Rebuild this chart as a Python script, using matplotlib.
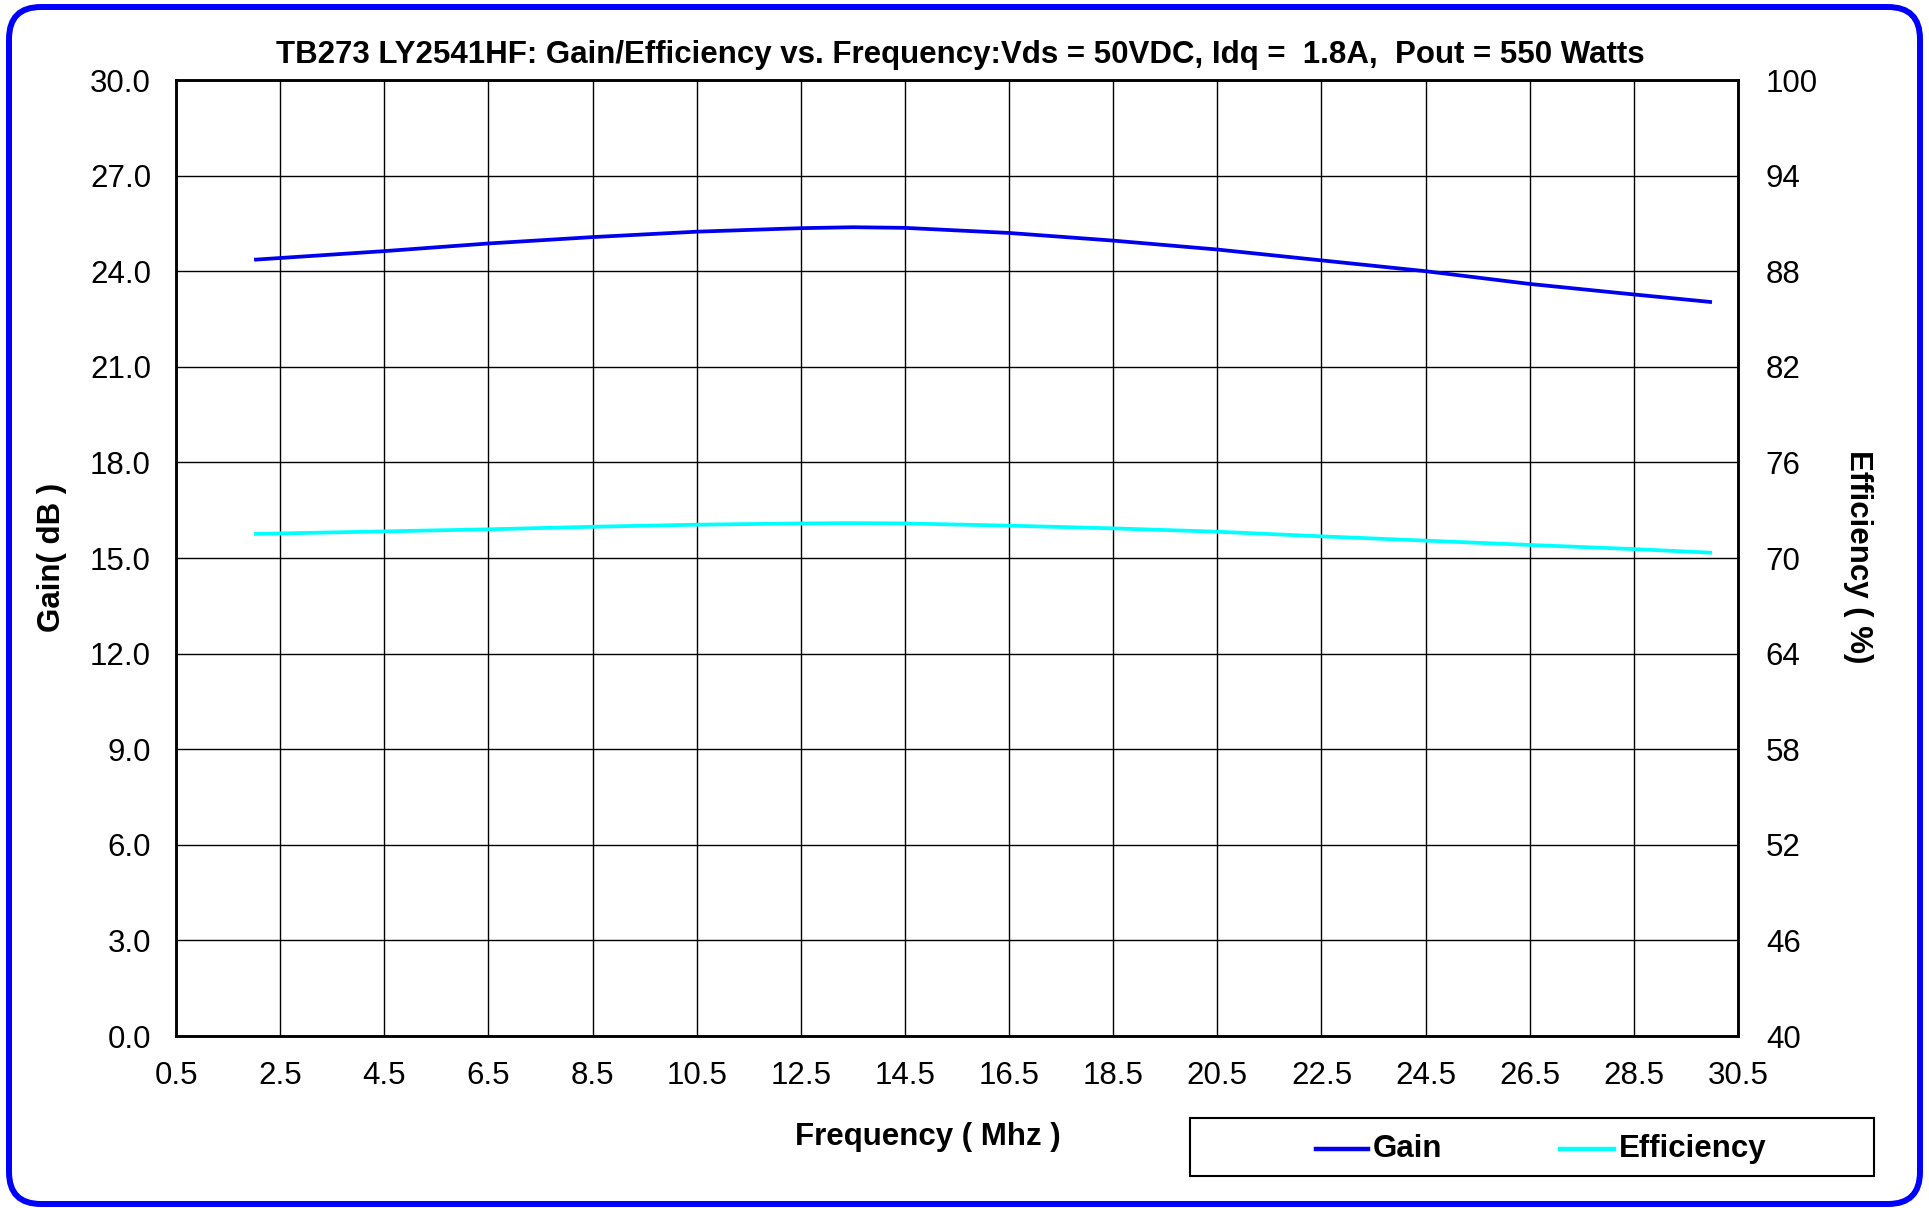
import matplotlib
matplotlib.use("Agg")
import matplotlib.pyplot as plt
from matplotlib.patches import FancyBboxPatch, Rectangle
from matplotlib.lines import Line2D

plt.rcParams['font.family'] = ['Liberation Sans', 'DejaVu Sans']

# Measured performance of the amplifier across the HF band
freq_mhz = [2.0, 4.5, 6.5, 8.5, 10.5, 12.5, 13.5, 14.5, 16.5, 18.5, 20.5, 22.5, 24.5, 26.5, 28.5, 30.0]
gain_db = [24.36, 24.63, 24.87, 25.07, 25.24, 25.35, 25.38, 25.36, 25.20, 24.96, 24.68, 24.34, 24.00, 23.60, 23.27, 23.03]
efficiency_pct = [71.51, 71.67, 71.80, 71.96, 72.09, 72.17, 72.19, 72.17, 72.03, 71.86, 71.65, 71.36, 71.09, 70.82, 70.56, 70.33]

x_ticks = [0.5 + 2 * i for i in range(16)]
gain_ticks = [3.0 * i for i in range(11)]
eff_ticks = [40 + 6 * i for i in range(11)]

title = "TB273 LY2541HF: Gain/Efficiency vs. Frequency:Vds = 50VDC, Idq =  1.8A,  Pout = 550 Watts"

GAIN_COLOR = '#0000EE'
EFF_COLOR = '#00FFFF'

W, H = 1929, 1208
fig = plt.figure(figsize=(W / 100, H / 100), dpi=100)
fig.patch.set_facecolor('white')


def fx(px):
    return px / W


def fy(py):
    return 1 - py / H


# Rounded blue outer frame
frame = FancyBboxPatch((0.09, 0.04), 19.11, 11.97,
                       boxstyle="round,pad=0,rounding_size=0.32",
                       transform=fig.dpi_scale_trans, fill=False,
                       edgecolor='#0000FF', linewidth=4.3, zorder=0)
fig.patches.append(frame)

ax = fig.add_axes([fx(176), fy(1036), fx(1738) - fx(176), fy(80) - fy(1036)])
ax2 = ax.twinx()

ax.plot(freq_mhz, gain_db, color=GAIN_COLOR, lw=2.7, solid_capstyle='butt', zorder=3)
ax2.plot(freq_mhz, efficiency_pct, color=EFF_COLOR, lw=2.7, solid_capstyle='butt', zorder=3)

ax.set_xlim(0.5, 30.5)
ax.set_ylim(0, 30)
ax2.set_ylim(40, 100)
ax.set_xticks(x_ticks)
ax.set_xticklabels([f"{v:.1f}" for v in x_ticks])
ax.set_yticks(gain_ticks)
ax.set_yticklabels([f"{v:.1f}" for v in gain_ticks])
ax2.set_yticks(eff_ticks)
ax2.set_yticklabels([f"{v:d}" for v in eff_ticks])

ax.grid(True, color='black', lw=1.0)
ax.set_axisbelow(True)
for a in (ax, ax2):
    for s in a.spines.values():
        s.set_linewidth(1.8)
        s.set_color('black')
ax.tick_params(axis='both', length=0, labelsize=22.5, pad=18)
ax2.tick_params(axis='y', length=0, labelsize=22.5, pad=20)

fig.text(fx(960), fy(55), title, ha='center', va='center',
         fontsize=22.5, fontweight='bold')
fig.text(fx(52), fy(557), "Gain( dB )", ha='center', va='center',
         rotation=90, fontsize=22.5, fontweight='bold')
fig.text(fx(1858), fy(557), "Efficiency ( %)", ha='center', va='center',
         rotation=-90, fontsize=22.5, fontweight='bold')
fig.text(fx(928), fy(1137), "Frequency ( Mhz )", ha='center', va='center',
         fontsize=22.5, fontweight='bold')

# Legend box below the plot, right side
fig.patches.append(Rectangle((fx(1190), fy(1176)), fx(1874) - fx(1190), fy(1118) - fy(1176),
                             transform=fig.transFigure, fill=False,
                             edgecolor='black', lw=1.5))
ly = fy(1149)
fig.lines.append(Line2D([fx(1316), fx(1368)], [ly, ly], transform=fig.transFigure,
                        color=GAIN_COLOR, lw=3.2))
fig.text(fx(1373), ly, "Gain", ha='left', va='center', fontsize=22.5, fontweight='bold')
fig.lines.append(Line2D([fx(1560), fx(1614)], [ly, ly], transform=fig.transFigure,
                        color=EFF_COLOR, lw=3.2))
fig.text(fx(1619), ly, "Efficiency", ha='left', va='center', fontsize=22.5, fontweight='bold')

fig.savefig("out.png", dpi=100, facecolor='white')
